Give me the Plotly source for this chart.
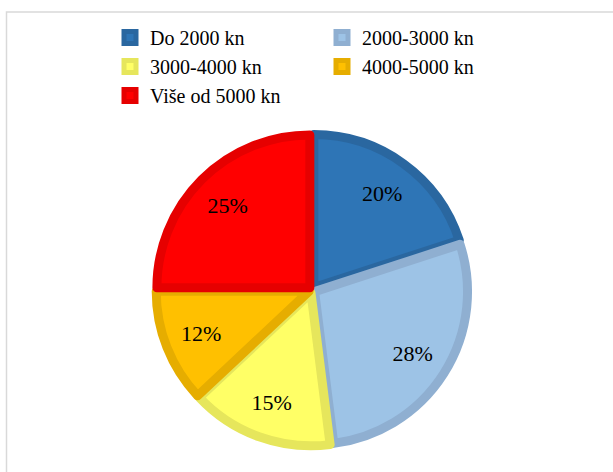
import plotly.graph_objects as go

categories = ["Do 2000 kn", "2000-3000 kn", "3000-4000 kn", "4000-5000 kn", "Više od 5000 kn"]
shares = [20, 28, 15, 12, 25]
fill_colors = ["#2E75B6", "#9DC3E6", "#FFFF66", "#FFC000", "#FF0000"]
edge_colors = ["#2A67A0", "#8FAFD1", "#E6E65C", "#E6AD00", "#E60000"]

FONT = "Liberation Serif, Times New Roman, serif"
W, H = 613, 472
cx, cy, r = 312, 290, 156
domain = dict(x=[(cx - r) / W, (cx + r) / W], y=[1 - (cy + r) / H, 1 - (cy - r) / H])

common = dict(labels=categories, values=shares, sort=False, direction="clockwise",
              rotation=0, pull=0.02, domain=domain)

# filled slices (legend source)
fig = go.Figure(go.Pie(
    **common,
    marker=dict(colors=fill_colors, line=dict(color=edge_colors, width=9)),
    textinfo="none",
    hoverinfo="label+percent",
))
# percentage labels, placed by plotly in the outer ring of the same pie
fig.add_trace(go.Pie(
    **common,
    hole=0.52,
    marker=dict(colors=["rgba(0,0,0,0)"] * len(shares), line=dict(width=0)),
    texttemplate="%{percent:.0%}",
    textposition="inside",
    insidetextorientation="horizontal",
    textfont=dict(family=FONT, size=22, color="black"),
    showlegend=False,
    hoverinfo="skip",
))

fig.update_layout(
    width=W, height=H,
    margin=dict(l=0, r=0, t=0, b=0),
    paper_bgcolor="white",
    plot_bgcolor="white",
    font=dict(family=FONT, size=20, color="black"),
    legend=dict(
        orientation="h",
        x=110 / W, xanchor="left",
        y=1 - 18 / H, yanchor="top",
        entrywidth=167,
        itemwidth=30,
        tracegroupgap=0,
        font=dict(family=FONT, size=20, color="black"),
        bgcolor="rgba(0,0,0,0)",
    ),
    shapes=[dict(type="rect", xref="paper", yref="paper",
                 x0=6.5 / W, x1=1.02, y0=-0.02, y1=1 - 12 / H,
                 line=dict(color="#D9D9D9", width=1.5), layer="below")],
)

fig.write_html("out.html", config={"displayModeBar": False},
               post_script="document.body.style.margin='0';document.body.style.overflow='hidden';")
